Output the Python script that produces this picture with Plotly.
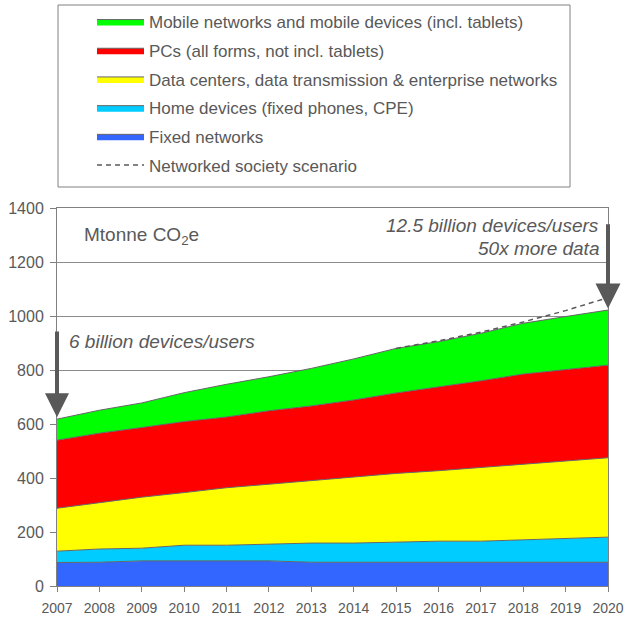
import plotly.graph_objects as go

years = list(range(2007, 2021))
fixed_networks = [87, 88, 93, 93, 93, 93, 88, 88, 88, 88, 88, 88, 88, 88]
home_devices = [42, 49, 47, 58, 58, 62, 71, 71, 74, 78, 78, 83, 87, 93]
data_centers = [159, 171, 189, 195, 213, 222, 232, 245, 255, 261, 273, 281, 288, 294]
pcs = [252, 258, 258, 263, 262, 272, 276, 285, 298, 310, 321, 333, 339, 343]
mobile = [78, 85, 91, 107, 121, 126, 139, 152, 165, 168, 176, 188, 196, 204]

scenario_years = [2015, 2016, 2017, 2018, 2019, 2020]
scenario_values = [880, 908, 940, 978, 1020, 1068]

series = [
    ("Fixed networks", fixed_networks, "#3366FF", 5),
    ("Home devices (fixed phones, CPE)", home_devices, "#00CCFF", 4),
    ("Data centers, data transmission & enterprise networks", data_centers, "#FFFF00", 3),
    ("PCs (all forms, not incl. tablets)", pcs, "#FF0000", 2),
    ("Mobile networks and mobile devices (incl. tablets)", mobile, "#00FF00", 1),
]

FONT = "Liberation Sans, Arial, sans-serif"
GRAY = "#595959"

# plot area in page pixels
W, H = 624, 619
PL, PR, PT, PB = 57, 608, 208, 586
PW, PH = PR - PL, PB - PT


def px(xp):
    return (xp - PL) / PW


def py(yp):
    return (PB - yp) / PH


fig = go.Figure()

for name, vals, col, rank in series:
    fig.add_trace(go.Scatter(
        x=years, y=vals, mode="lines", name=name,
        stackgroup="one", fillcolor=col,
        line=dict(color="#666666", width=1),
        legendrank=rank, legendgroup="g%d" % rank,
    ))

fig.add_trace(go.Scatter(
    x=scenario_years, y=scenario_values, mode="lines",
    name="Networked society scenario",
    line=dict(color=GRAY, width=1.5, dash="5px,4px"),
    legendrank=6, legendgroup="g6",
))

# arrows
fig.add_annotation(x=2007, y=625, ax=2007, ay=948, xref="x", yref="y",
                   axref="x", ayref="y", text="", showarrow=True,
                   arrowhead=2, arrowsize=1.2, arrowwidth=4, arrowcolor=GRAY)
fig.add_annotation(x=2020, y=1028, ax=2020, ay=1345, xref="x", yref="y",
                   axref="x", ayref="y", text="", showarrow=True,
                   arrowhead=2, arrowsize=1.25, arrowwidth=4, arrowcolor=GRAY)

fig.add_annotation(x=px(67), y=907, xref="paper", yref="y", xanchor="left",
                   yanchor="middle", showarrow=False,
                   text="<i>6 billion devices/users</i>",
                   font=dict(family=FONT, size=19, color=GRAY))
fig.add_annotation(x=px(601), y=1337, xref="paper", yref="y", xanchor="right",
                   yanchor="middle", showarrow=False,
                   text="<i>12.5 billion devices/users</i>",
                   font=dict(family=FONT, size=19, color=GRAY))
fig.add_annotation(x=px(601), y=1250, xref="paper", yref="y", xanchor="right",
                   yanchor="middle", showarrow=False,
                   text="<i>50x more data</i>",
                   font=dict(family=FONT, size=19, color=GRAY))
fig.add_annotation(x=px(82), y=1296, xref="paper", yref="y", xanchor="left",
                   yanchor="middle", showarrow=False,
                   text="Mtonne CO<sub>2</sub>e",
                   font=dict(family=FONT, size=19, color=GRAY))

# legend frame
fig.add_shape(type="rect", xref="paper", yref="paper",
              x0=px(58), x1=px(570), y0=py(187), y1=py(5),
              line=dict(color="#808080", width=1), fillcolor="rgba(0,0,0,0)")

fig.update_layout(
    width=W, height=H,
    margin=dict(l=PL, r=W - PR, t=PT, b=H - PB, autoexpand=False),
    paper_bgcolor="white", plot_bgcolor="white",
    font=dict(family=FONT, size=16, color=GRAY),
    showlegend=True,
    legend=dict(
        x=px(92), y=py(4), xanchor="left", yanchor="top",
        traceorder="grouped", tracegroupgap=3.6,
        bgcolor="rgba(0,0,0,0)", borderwidth=0,
        font=dict(family=FONT, size=17, color=GRAY),
        itemwidth=47,
    ),
    xaxis=dict(
        range=[2007, 2020], dtick=1, tick0=2007, showgrid=False,
        showline=True, linecolor="#808080", linewidth=1, mirror=True,
        ticks="outside", ticklen=5, tickcolor="#808080",
        tickfont=dict(family=FONT, size=14, color=GRAY),
        ticklabelstandoff=4,
        zeroline=False, automargin=False,
    ),
    yaxis=dict(
        range=[0, 1400], dtick=200, showgrid=True, gridcolor="#8c8c8c",
        gridwidth=1, showline=True, linecolor="#808080", linewidth=1,
        mirror=True, ticks="outside", ticklen=6, tickcolor="#808080",
        tickfont=dict(family=FONT, size=16, color=GRAY), zeroline=False,
        ticklabelstandoff=3,
        automargin=False,
    ),
)

# remove the browser's default 8px body margin so the figure fills the window
fig.write_html("out.html", config={"displayModeBar": False},
               post_script="document.body.style.margin='0';")
